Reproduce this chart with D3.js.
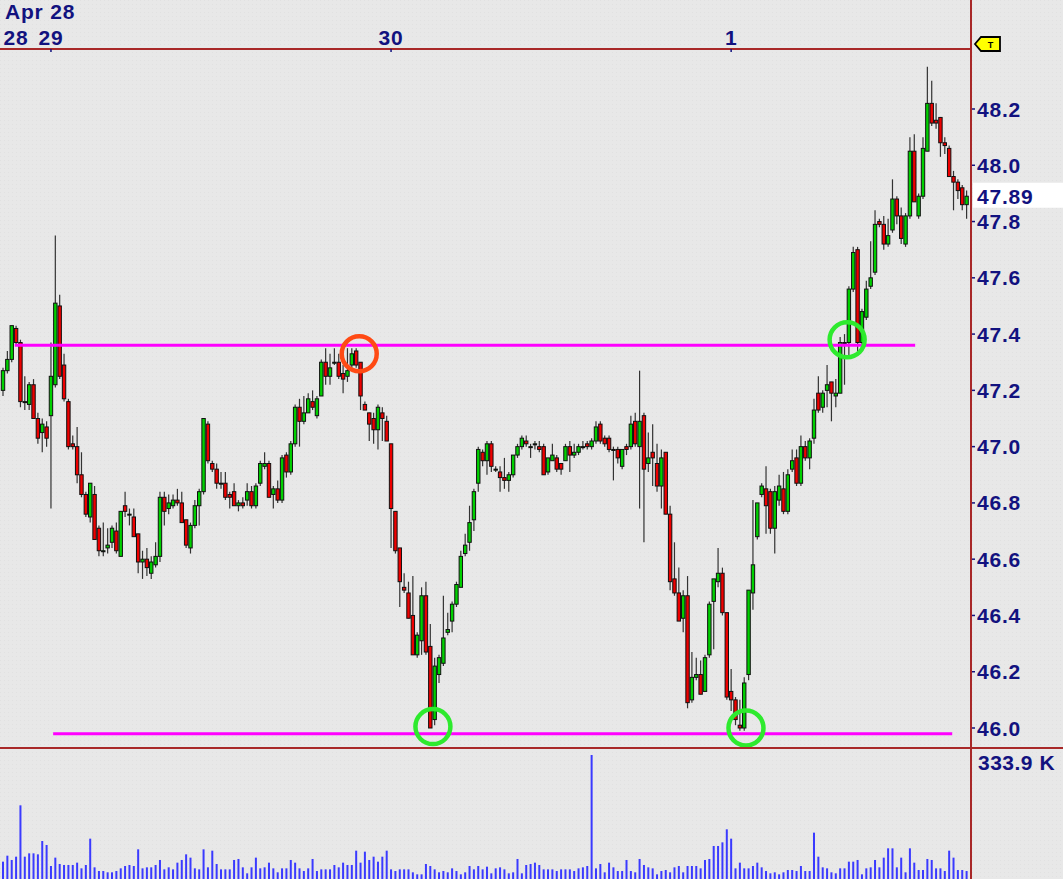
<!DOCTYPE html>
<html><head><meta charset="utf-8">
<script src="https://cdn.jsdelivr.net/npm/d3@7"></script>
<style>html,body{margin:0;padding:0;background:#e8e8e8;overflow:hidden}</style>
</head><body><svg id="c" width="1063" height="879"></svg>
<script>
// ---- DATA (5-minute bars, Apr 28 tail .. May 1) ----
const opens=[47.20,47.27,47.31,47.42,47.37,47.16,47.15,47.22,47.10,47.05,
47.07,47.11,47.22,47.50,47.29,47.16,47.01,47.00,46.90,46.83,
46.75,46.83,46.71,46.63,46.64,46.66,46.70,46.61,46.79,46.76,
46.75,46.69,46.59,46.60,46.55,46.58,46.61,46.82,46.78,46.79,
46.81,46.80,46.74,46.64,46.72,46.79,46.84,47.08,46.94,46.92,
46.87,46.87,46.83,46.84,46.79,46.80,46.81,46.84,46.79,46.87,
46.93,46.94,46.83,46.85,46.81,46.97,46.91,47.01,47.14,47.09,
47.12,47.16,47.11,47.18,47.30,47.25,47.30,47.30,47.26,47.25,
47.29,47.34,47.30,47.15,47.12,47.10,47.06,47.12,47.09,47.01,
46.77,46.64,46.50,46.48,46.40,46.26,46.31,46.47,46.29,46.03,
46.19,46.23,46.34,46.38,46.44,46.50,46.62,46.66,46.74,46.87,
46.98,46.95,47.01,46.92,46.91,46.89,46.88,46.90,46.97,47.00,
47.02,47.00,47.01,47.00,47.00,46.91,46.95,46.96,46.94,46.95,
47.00,46.97,46.98,47.00,47.01,47.00,47.02,47.08,47.03,47.03,
46.99,46.99,46.93,47.00,47.00,47.09,47.00,47.11,46.94,46.98,
46.94,46.86,46.98,46.76,46.53,46.48,46.39,46.47,46.10,46.18,
46.19,46.13,46.26,46.45,46.52,46.55,46.41,46.13,46.10,46.01,
46.00,46.19,46.48,46.68,46.83,46.85,46.84,46.71,46.81,46.85,
46.77,46.92,46.96,46.87,47.00,46.96,47.03,47.19,47.14,47.20,
47.23,47.18,47.19,47.37,47.37,47.56,47.70,47.37,47.46,47.57,
47.62,47.80,47.79,47.72,47.77,47.88,47.82,47.72,47.82,48.05,
47.82,47.89,48.05,48.22,48.16,48.17,48.08,48.06,47.96,47.94,
47.92,47.86];
const highs=[47.28,47.34,47.43,47.43,47.38,47.25,47.23,47.24,47.12,47.10,
47.09,47.37,47.75,47.54,47.33,47.17,47.04,47.07,46.98,46.84,
46.87,46.86,46.72,46.73,46.71,46.72,46.73,46.77,46.84,46.78,
46.78,46.69,46.63,46.64,46.61,46.66,46.84,46.84,46.83,46.83,
46.85,46.84,46.74,46.73,46.81,46.85,47.10,47.09,46.95,46.94,
46.91,46.91,46.84,46.87,46.81,46.82,46.87,46.86,46.87,46.95,
46.98,46.95,46.86,46.88,46.97,46.98,47.02,47.15,47.17,47.18,
47.19,47.20,47.18,47.31,47.35,47.33,47.35,47.33,47.29,47.35,
47.35,47.35,47.30,47.16,47.12,47.12,47.15,47.14,47.11,47.01,
46.77,46.64,46.55,46.52,46.54,46.34,46.50,46.52,46.37,46.25,
46.26,46.47,46.41,46.45,46.52,46.63,46.69,46.79,46.85,47.00,
46.99,47.02,47.02,46.93,46.93,46.96,46.91,46.97,47.01,47.04,
47.04,47.01,47.02,47.02,47.01,46.96,47.01,46.97,46.94,47.01,
47.02,47.01,47.01,47.02,47.02,47.03,47.09,47.09,47.04,47.04,
47.00,47.00,46.99,47.01,47.11,47.12,47.27,47.12,47.05,47.08,
47.01,46.99,46.98,46.79,46.66,46.57,46.49,46.54,46.27,46.25,
46.24,46.26,46.45,46.53,46.64,46.57,46.41,46.21,46.11,46.10,
46.18,46.49,46.81,46.80,46.87,46.93,46.85,46.86,46.90,46.91,
46.92,46.99,46.99,47.04,47.02,47.03,47.17,47.25,47.20,47.29,
47.23,47.24,47.39,47.40,47.57,47.71,47.71,47.49,47.59,47.73,
47.84,47.81,47.82,47.81,47.95,47.89,47.85,47.83,48.10,48.11,
47.90,48.10,48.35,48.30,48.22,48.17,48.10,48.07,47.98,47.95,
47.93,47.91];
const lows=[47.18,47.26,47.30,47.36,47.14,47.13,47.13,47.10,47.01,46.98,
47.00,46.78,47.21,47.24,47.16,46.99,46.99,46.87,46.82,46.75,
46.73,46.67,46.61,46.61,46.62,46.64,46.62,46.61,46.75,46.72,
46.68,46.55,46.53,46.54,46.53,46.57,46.59,46.72,46.76,46.78,
46.79,46.73,46.64,46.62,46.71,46.72,46.83,46.94,46.91,46.85,
46.85,46.81,46.78,46.79,46.77,46.78,46.79,46.78,46.78,46.86,
46.92,46.82,46.78,46.80,46.80,46.89,46.90,47.00,47.00,47.08,
47.12,47.13,47.10,47.18,47.22,47.22,47.29,47.24,47.19,47.23,
47.28,47.28,47.13,47.13,47.02,47.01,46.99,47.02,47.02,46.64,
46.62,46.43,46.48,46.39,46.26,46.25,46.26,46.26,46.00,46.01,
46.16,46.22,46.33,46.34,46.43,46.50,46.61,46.63,46.70,46.84,
46.93,46.90,46.91,46.91,46.84,46.85,46.84,46.89,46.96,46.99,
47.00,46.96,46.99,46.98,46.90,46.90,46.95,46.91,46.90,46.95,
46.91,46.96,46.97,46.99,46.99,46.99,47.01,47.01,47.00,46.98,
46.88,46.94,46.92,46.97,46.99,47.00,46.78,46.66,46.91,46.86,
46.84,46.78,46.76,46.49,46.47,46.38,46.34,46.07,46.09,46.17,
46.12,46.13,46.25,46.28,46.50,46.40,46.10,46.06,46.01,45.99,
45.99,46.17,46.42,46.67,46.82,46.69,46.69,46.62,46.79,46.76,
46.76,46.91,46.86,46.86,46.95,46.92,47.01,47.12,47.12,47.14,
47.09,47.14,47.19,47.22,47.32,47.55,47.34,47.34,47.45,47.56,
47.61,47.78,47.70,47.71,47.76,47.79,47.72,47.71,47.81,47.87,
47.81,47.88,48.05,48.14,48.13,48.03,48.04,47.96,47.84,47.88,
47.84,47.81];
const closes=[47.27,47.31,47.43,47.37,47.16,47.16,47.22,47.10,47.03,47.08,
47.03,47.25,47.51,47.25,47.17,47.00,47.00,46.90,46.83,46.76,
46.87,46.67,46.63,46.63,46.65,46.71,46.63,46.77,46.77,46.76,
46.68,46.59,46.60,46.57,46.59,46.61,46.82,46.77,46.80,46.81,
46.80,46.73,46.65,46.72,46.79,46.84,47.10,46.95,46.92,46.87,
46.87,46.82,46.82,46.79,46.80,46.79,46.84,46.79,46.86,46.94,
46.94,46.82,46.85,46.81,46.96,46.91,47.01,47.14,47.09,47.12,
47.17,47.14,47.17,47.30,47.25,47.28,47.30,47.25,47.24,47.27,
47.33,47.29,47.18,47.13,47.08,47.06,47.14,47.10,47.02,46.78,
46.63,46.52,46.49,46.39,46.26,46.33,46.47,46.27,46.00,46.22,
46.25,46.32,46.35,46.44,46.51,46.61,46.65,46.73,46.84,46.99,
46.95,47.01,46.93,46.92,46.89,46.88,46.90,46.97,47.00,47.03,
47.01,47.00,47.01,46.99,46.90,46.96,46.97,46.92,46.92,47.00,
46.97,46.98,47.00,47.00,47.00,47.02,47.07,47.02,47.01,46.99,
46.99,46.96,46.99,46.99,47.08,47.01,47.09,46.92,46.96,46.96,
46.86,46.96,46.76,46.52,46.48,46.38,46.47,46.09,46.18,46.19,
46.12,46.25,46.44,46.53,46.55,46.41,46.11,46.10,46.03,46.00,
46.16,46.49,46.58,46.80,46.86,46.79,46.71,46.84,46.86,46.77,
46.90,46.95,46.87,47.00,46.96,47.02,47.13,47.13,47.19,47.22,
47.19,47.19,47.37,47.37,47.56,47.69,47.37,47.48,47.56,47.60,
47.79,47.79,47.72,47.75,47.88,47.82,47.74,47.82,48.05,47.87,
47.89,48.06,48.22,48.15,48.15,48.08,48.07,47.96,47.94,47.91,
47.86,47.89];
const volumesK=[46.7,62.8,51.2,60.1,198.4,60.1,69.1,69.1,66.4,102.3,
91.6,35.0,57.5,40.4,37.7,37.7,37.7,44.0,28.7,37.7,
108.6,31.4,21.5,21.5,18.0,18.0,21.5,28.7,35.0,37.7,
35.0,79.9,28.7,31.4,31.4,37.7,51.2,26.0,31.4,26.0,
44.0,51.2,66.4,57.5,28.7,26.0,79.9,31.4,76.3,40.4,
26.0,26.0,26.0,51.2,53.9,31.4,15.3,31.4,57.5,28.7,
31.4,44.0,28.7,18.0,28.7,28.7,51.2,44.0,28.7,21.5,
28.7,53.9,21.5,26.0,26.0,26.0,37.7,31.4,44.0,37.7,
37.7,76.3,44.0,73.6,51.2,60.1,46.7,60.1,76.3,26.0,
21.5,26.0,26.0,26.0,18.0,12.6,12.6,40.4,35.0,26.0,
18.0,21.5,18.0,28.7,21.5,12.6,18.0,35.0,26.0,35.0,
26.0,33.2,15.3,28.7,31.4,26.0,15.3,18.0,53.9,15.3,
37.7,40.4,44.0,37.7,26.0,26.0,26.0,21.5,26.0,26.0,
26.0,21.5,28.7,31.4,35.0,333.9,28.7,40.4,18.0,44.0,
31.4,21.5,21.5,51.2,21.5,18.0,53.9,37.7,31.4,28.7,
12.6,21.5,24.2,18.0,31.4,35.0,18.0,35.0,35.0,35.0,
28.7,51.2,53.9,88.9,88.9,98.7,133.8,108.6,28.7,44.0,
28.7,28.7,35.0,44.0,31.4,21.5,15.3,18.0,12.6,18.0,
24.2,24.2,21.5,35.0,21.5,21.5,124.8,60.1,31.4,28.7,
18.0,15.3,28.7,28.7,46.7,46.7,51.2,12.6,28.7,31.4,
51.2,31.4,57.5,82.6,82.6,31.4,57.5,18.0,82.6,44.0,
24.2,24.2,53.9,51.2,28.7,28.7,21.5,76.3,57.5,24.2,
24.2,21.5];
const monthLabel="Apr 28";
const dayLabels=["28","29","30","1"];
const dayLabelBars=[3,11,89,167];
const dayTickBars=[11,89,167];
const priceTicks=[46.0,46.2,46.4,46.6,46.8,47.0,47.2,47.4,47.6,47.8,48.0,48.2];
const lastPriceLabel="47.89";
const volumeMaxLabel="333.9 K";
const levelLines=[{price:47.36,from:2.7,to:209.2},{price:45.98,from:11.5,to:217.7}];
const markers=[{bar:81.7,price:47.33,color:"#ff4a14"},
  {bar:98.6,price:46.005,color:"#2eea2e"},
  {bar:170.4,price:46.00,color:"#2eea2e"},
  {bar:193.6,price:47.38,color:"#2eea2e"}];

// ---- DRAW ----
const svg=d3.select("#c");
const W=1063,H=879, axisX=971, priceTop=50, priceBot=747, volTop=749;
const navy="#12127f", axisRed="#a82828";
const font='"Liberation Sans", Arial, sans-serif';

const defs=svg.append("defs");
const pat=defs.append("pattern").attr("id","dots").attr("width",4).attr("height",4).attr("patternUnits","userSpaceOnUse");
pat.append("rect").attr("width",4).attr("height",4).attr("fill","#e8e8e8");
pat.append("rect").attr("width",1).attr("height",1).attr("fill","#e1e1e1");
defs.append("clipPath").attr("id","pclip").append("rect").attr("x",0).attr("y",priceTop).attr("width",axisX).attr("height",priceBot-priceTop);
defs.append("clipPath").attr("id","vclip").append("rect").attr("x",0).attr("y",volTop).attr("width",axisX).attr("height",H-volTop);

svg.append("rect").attr("width",W).attr("height",H).attr("fill","url(#dots)");

const n=closes.length;
const x=d3.scaleLinear().domain([0,221]).range([3,966.6]);
const y=d3.scaleLinear().domain([46.0,48.2]).range([728,109]);
const yv=d3.scaleLinear().domain([0,333.9]).range([H,755]);

const bars=d3.range(n).map(i=>({i,o:opens[i],h:highs[i],l:lows[i],c:closes[i],v:volumesK[i]}));

// volume
svg.append("g").attr("clip-path","url(#vclip)").selectAll("rect").data(bars).join("rect")
  .attr("x",d=>x(d.i)-1).attr("width",2)
  .attr("y",d=>yv(d.v)).attr("height",d=>H-yv(d.v))
  .attr("fill","#3a3aff");

// candles
const pg=svg.append("g").attr("clip-path","url(#pclip)");
pg.append("g").selectAll("line").data(bars).join("line")
  .attr("x1",d=>x(d.i)).attr("x2",d=>x(d.i))
  .attr("y1",d=>y(d.h)).attr("y2",d=>y(d.l))
  .attr("stroke","#333").attr("stroke-width",1.2);
pg.append("g").selectAll("rect").data(bars).join("rect")
  .attr("x",d=>x(d.i)-1.7).attr("width",3.4)
  .attr("y",d=>y(Math.max(d.o,d.c)))
  .attr("height",d=>Math.max(1,Math.abs(y(d.o)-y(d.c))))
  .attr("fill",d=>d.c>=d.o?"#00d000":"#ee0000")
  .attr("stroke","#111").attr("stroke-width",1);

// level lines
pg.append("g").selectAll("line").data(levelLines).join("line")
  .attr("x1",d=>x(d.from)).attr("x2",d=>x(d.to))
  .attr("y1",d=>y(d.price)).attr("y2",d=>y(d.price))
  .attr("stroke","#ff00ff").attr("stroke-width",3);

// markers
pg.append("g").selectAll("circle").data(markers).join("circle")
  .attr("cx",d=>x(d.bar)).attr("cy",d=>y(d.price)).attr("r",17.5)
  .attr("fill","none").attr("stroke",d=>d.color).attr("stroke-width",4.5);

// frame lines
svg.append("line").attr("x1",0).attr("x2",axisX).attr("y1",49).attr("y2",49).attr("stroke",axisRed).attr("stroke-width",2);
svg.append("line").attr("x1",0).attr("x2",W).attr("y1",748).attr("y2",748).attr("stroke",axisRed).attr("stroke-width",2);
svg.append("line").attr("x1",axisX).attr("x2",axisX).attr("y1",0).attr("y2",H).attr("stroke",axisRed).attr("stroke-width",2);

// top time axis
const txt=sel=>sel.attr("font-family",font).attr("font-weight","bold").attr("font-size",21).attr("letter-spacing",0.8).attr("fill",navy);
svg.append("text").attr("x",5).attr("y",19).text(monthLabel).call(txt);
svg.append("g").selectAll("text").data(dayLabels).join("text")
  .attr("x",(d,i)=>x(dayLabelBars[i])).attr("y",45).attr("text-anchor","middle").text(d=>d).call(txt);
svg.append("g").selectAll("line").data(dayTickBars).join("line")
  .attr("x1",d=>x(d)).attr("x2",d=>x(d)).attr("y1",49).attr("y2",52)
  .attr("stroke",navy).attr("stroke-width",1.5);

// right price axis
const ag=svg.append("g");
ag.selectAll("line").data(priceTicks).join("line")
  .attr("x1",axisX+1).attr("x2",axisX+4).attr("y1",d=>y(d)).attr("y2",d=>y(d))
  .attr("stroke",navy).attr("stroke-width",1.5);
ag.selectAll("text").data(priceTicks).join("text")
  .attr("x",977).attr("y",d=>y(d)+7.5).text(d=>d3.format(".1f")(d)).call(txt);

// last price box
const lp=+lastPriceLabel;
svg.append("rect").attr("x",axisX+2).attr("y",y(lp)-13.5).attr("width",W-axisX-2).attr("height",25).attr("fill","#fff");
svg.append("text").attr("x",977).attr("y",y(lp)+7.5).text(lastPriceLabel).call(txt);

// volume max label
svg.append("text").attr("x",978).attr("y",770).text(volumeMaxLabel).call(txt).attr("letter-spacing",0.5);

// yellow tag
svg.append("path").attr("d","M975,44 L981,37 L1000,37 L1000,51 L981,51 Z")
  .attr("fill","#ffff00").attr("stroke","#000").attr("stroke-width",1.8);
svg.append("text").attr("x",990.5).attr("y",48).attr("text-anchor","middle").text("T")
  .attr("font-family",font).attr("font-weight","bold").attr("font-size",9).attr("fill","#000");
</script></body></html>
